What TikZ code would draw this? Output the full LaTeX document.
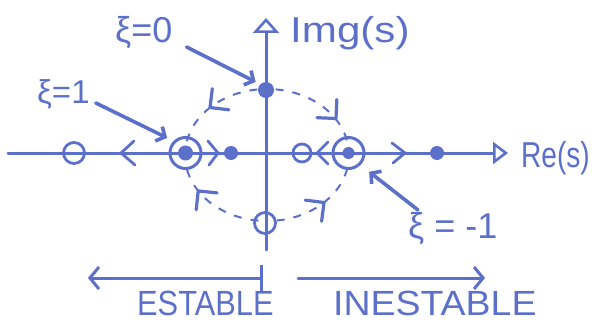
\documentclass[tikz,border=0pt]{standalone}
\usepackage{fontspec}
\setmainfont{Liberation Sans}
\usepackage{graphicx}
\usetikzlibrary{arrows.meta,calc}
\definecolor{ink}{RGB}{92,112,202}
\begin{document}
\begin{tikzpicture}[x=1pt,y=-1pt,color=ink,
  axisline/.style={line width=3pt, line cap=round},
  dotp/.style={circle, fill=ink, inner sep=0pt, minimum size=14pt},
  ringp/.style={circle, draw=ink, line width=3pt, inner sep=0pt, minimum size=31pt},
  ocirc/.style={circle, draw=ink, line width=2.8pt, inner sep=0pt, minimum size=19pt},
  ptr/.style={line width=3.6pt, line cap=round, -{Straight Barb[length=7pt,width=16pt]}},
  chev/.style={line width=2.8pt, line cap=round, line join=round},
  arcv/.style={line width=3.2pt, line cap=round, line join=round},
  dashcurve/.style={line width=2pt, dash pattern=on 8pt off 9pt},
  lab/.style={font=\fontsize{36}{40}\selectfont, inner sep=0pt, text=ink},
  bigarrow/.style={line width=3pt, line cap=round}
]
\useasboundingbox (0,0) rectangle (609,321);

% axes
\coordinate (rl) at (8,153);
\coordinate (rr) at (508,153);
\coordinate (vb) at (266,250);
\coordinate (vt) at (266,18);
\draw[axisline, -{Triangle[open,length=15pt,width=22pt,line width=2.6pt]}] (rl) -- (rr);
\draw[axisline, -{Triangle[open,length=15pt,width=26pt,line width=2.6pt]}] (vb) -- (vt);

% dashed ellipse (center 267,155; rx 82, ry 66)
\draw[dashcurve] plot[domain=192:264, samples=30] ({267+82*cos(\x)},{155+66*sin(\x)});
\draw[dashcurve] plot[domain=276:348, samples=30] ({267+82*cos(\x)},{155+66*sin(\x)});
\draw[dashcurve] plot[domain=12:84, samples=30] ({267+82*cos(\x)},{155+66*sin(\x)});
\draw[dashcurve] plot[domain=96:168, samples=30] ({267+82*cos(\x)},{155+66*sin(\x)});
% arrowheads on the locus (apex and a point behind it)
\coordinate (a1t) at (221.0,98.9);  \coordinate (a1) at (210.0,107.5);
\coordinate (a2t) at (325.0,106.5); \coordinate (a2) at (336.0,118.5);
\coordinate (a3t) at (312.9,211.1); \coordinate (a3) at (324.0,202.5);
\coordinate (a4t) at (207.0,201.8); \coordinate (a4) at (198.2,190.9);
\draw[arcv] ($(a1)!19pt!45:(a1t)$) -- (a1) -- ($(a1)!19pt!-45:(a1t)$);
\draw[arcv] ($(a2)!19pt!45:(a2t)$) -- (a2) -- ($(a2)!19pt!-45:(a2t)$);
\draw[arcv] ($(a3)!19pt!45:(a3t)$) -- (a3) -- ($(a3)!19pt!-45:(a3t)$);
\draw[arcv] ($(a4)!19pt!45:(a4t)$) -- (a4) -- ($(a4)!19pt!-45:(a4t)$);

% poles and zeros
\node[ocirc, minimum size=21pt] (o1) at (74,153) {};
\node[ringp] (r1) at (185.5,153) {};
\node[dotp, minimum size=15pt] (r1d) at (185.5,153) {};
\node[dotp] (d1) at (231,153) {};
\node[ocirc, minimum size=18pt] (o2) at (302,153) {};
\node[ringp] (r2) at (348.5,153) {};
\node[dotp, minimum size=12pt] (r2d) at (348.5,153) {};
\node[dotp] (d2) at (437,153) {};
\node[dotp, minimum size=16pt] (pz0) at (266,90) {};
\node[ocirc, minimum size=21pt] (o3) at (265,223) {};

% chevrons on the real axis
\draw[chev] (134,141) -- (121,153) -- (135,165);
\draw[chev] (208,141) -- (218,153) -- (209,165);
\draw[chev] (328,142) -- (317,153) -- (328,164);
\draw[chev] (392,143) -- (405,153) -- (393,163);

% labels
\node[lab, anchor=base west] (limg) at (290,43) {\scalebox{1.17}[1]{Img(s)}};
\node[lab, anchor=base west] (lre) at (521,167) {\scalebox{0.78}[1]{Re(s)}};
\node[lab, anchor=base west] (lz0) at (115,43) {ξ=0};
\node[lab, font=\fontsize{33}{36}\selectfont, anchor=base west] (lz1) at (37,103) {ξ=1};
\node[lab, anchor=base west] (lzm) at (408,238) {ξ = -1};
\node[lab, font=\fontsize{35}{38}\selectfont, anchor=base west] (lest) at (137,315) {\scalebox{0.88}[1]{ESTABLE}};
\node[lab, font=\fontsize{35}{38}\selectfont, anchor=base west] (lins) at (333,315) {\scalebox{1.07}[1]{INESTABLE}};

% pointers
\draw[ptr, shorten >=5pt] ([shift={(14,4)}]lz0.base east) -- (pz0.north west);
\draw[ptr, shorten >=7pt] ([shift={(6,0)}]lz1.base east) -- (r1.north west);
\draw[ptr, shorten >=11pt] ([shift={(10,-28)}]lzm.base west) -- (r2.south east);

% stable / unstable arrows
\coordinate (bl0) at (263,278);
\coordinate (bl1) at (88,278);
\coordinate (br0) at (298,278);
\coordinate (br1) at (485,278);
\draw[bigarrow, {Bar[width=26pt]}-{Straight Barb[length=9pt,width=22pt]}] (bl0) -- (bl1);
\draw[bigarrow, -{Straight Barb[length=9pt,width=22pt]}] (br0) -- (br1);
\end{tikzpicture}
\end{document}
